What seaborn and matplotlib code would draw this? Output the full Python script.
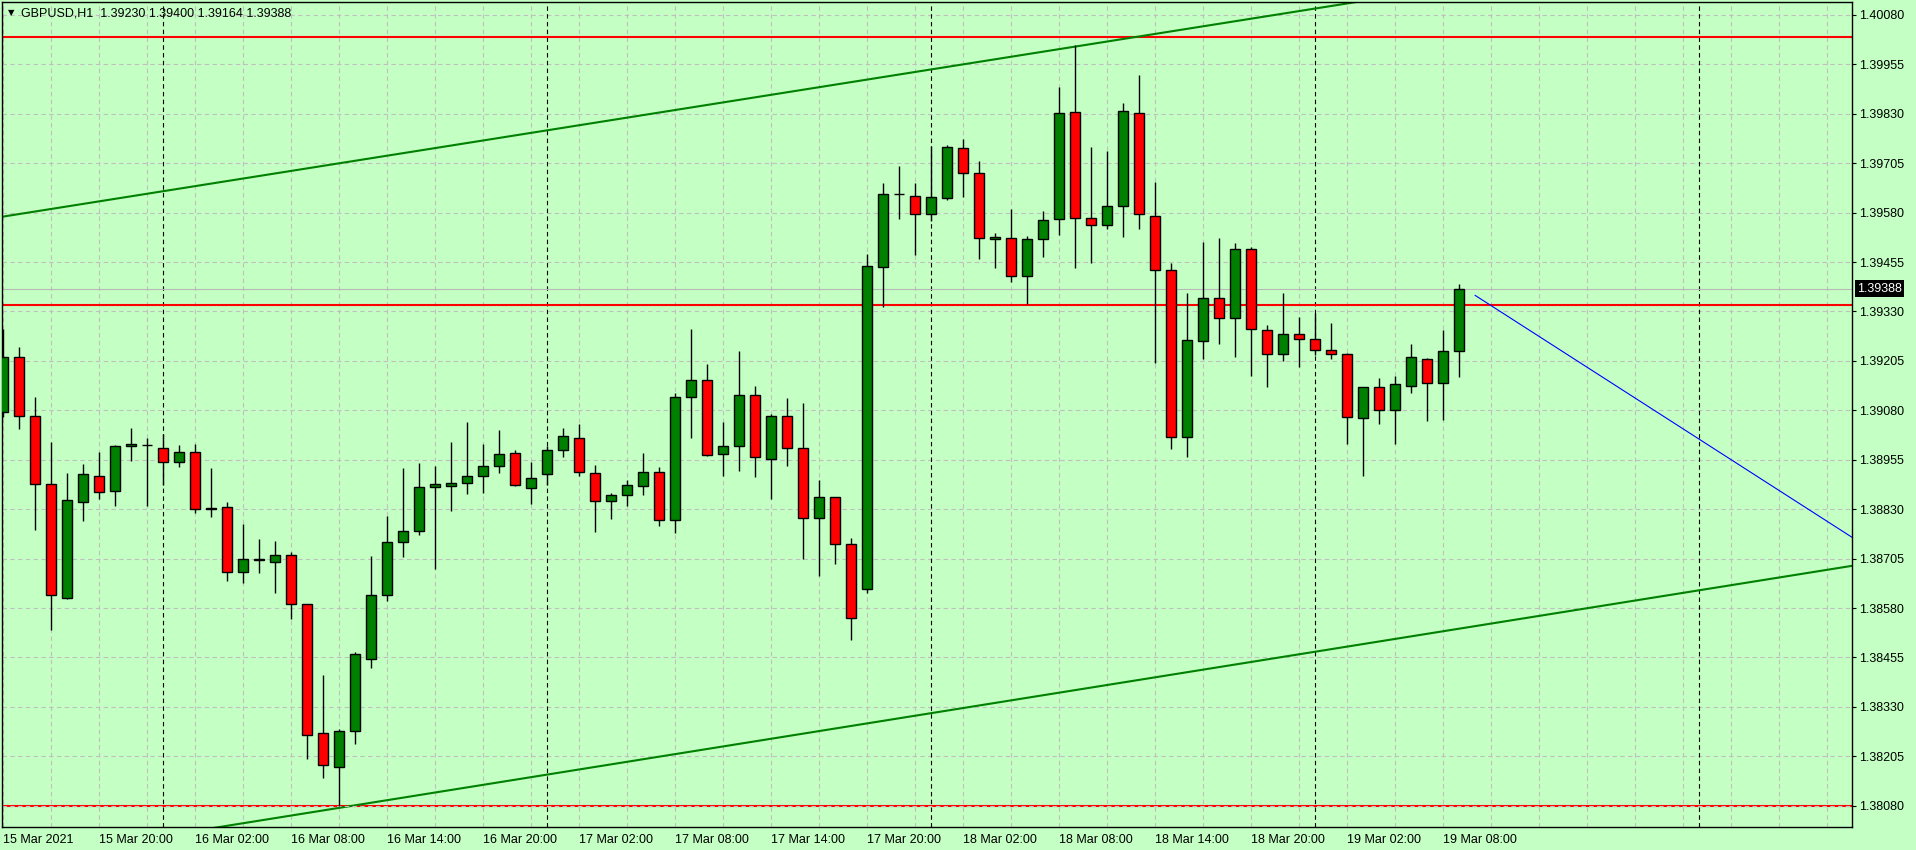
import numpy as np
import matplotlib
matplotlib.use("Agg")
import matplotlib.pyplot as plt
import seaborn as sns

# ─── Chart data: GBPUSD H1, 15 Mar 2021 14:00 -> 19 Mar 2021 09:00 ───────────
SYMBOL = "GBPUSD,H1"

opens = [1.39077, 1.39216, 1.39066, 1.38893, 1.38606, 1.38849, 1.38915, 1.38876, 1.38990, 1.38992,
         1.38986, 1.38950, 1.38974, 1.38831, 1.38835, 1.38672, 1.38703, 1.38697, 1.38713, 1.38589,
         1.38265, 1.38177, 1.38268, 1.38452, 1.38614, 1.38748, 1.38776, 1.38885, 1.38888, 1.38895,
         1.38915, 1.38938, 1.38971, 1.38883, 1.38918, 1.38979, 1.39009, 1.38921, 1.38850, 1.38865,
         1.38888, 1.38923, 1.38802, 1.39114, 1.39156, 1.38970, 1.38989, 1.39118, 1.38958, 1.39065,
         1.38984, 1.38807, 1.38860, 1.38741, 1.38627, 1.39442, 1.39626, 1.39621, 1.39576, 1.39616,
         1.39743, 1.39680, 1.39513, 1.39515, 1.39421, 1.39513, 1.39563, 1.39834, 1.39566, 1.39550,
         1.39596, 1.39831, 1.39571, 1.39434, 1.39012, 1.39255, 1.39363, 1.39313, 1.39487, 1.39282,
         1.39223, 1.39272, 1.39260, 1.39232, 1.39222, 1.39060, 1.39138, 1.39080, 1.39141, 1.39211,
         1.39148, 1.39230]
highs = [1.39287, 1.39239, 1.39115, 1.38999, 1.38921, 1.38944, 1.38974, 1.38993, 1.39035, 1.39010,
         1.39021, 1.38992, 1.38996, 1.38933, 1.38848, 1.38792, 1.38754, 1.38749, 1.38721, 1.38591,
         1.38410, 1.38275, 1.38468, 1.38711, 1.38812, 1.38934, 1.38946, 1.38939, 1.39000, 1.39050,
         1.38995, 1.39030, 1.38979, 1.38949, 1.38991, 1.39035, 1.39045, 1.38941, 1.38872, 1.38903,
         1.38971, 1.38936, 1.39125, 1.39286, 1.39197, 1.39050, 1.39230, 1.39141, 1.39072, 1.39111,
         1.39098, 1.38905, 1.38862, 1.38756, 1.39475, 1.39655, 1.39698, 1.39655, 1.39749, 1.39750,
         1.39766, 1.39710, 1.39528, 1.39588, 1.39520, 1.39583, 1.39897, 1.40003, 1.39745, 1.39735,
         1.39857, 1.39927, 1.39657, 1.39452, 1.39376, 1.39505, 1.39515, 1.39502, 1.39492, 1.39297,
         1.39376, 1.39315, 1.39325, 1.39300, 1.39224, 1.39140, 1.39163, 1.39168, 1.39249, 1.39213,
         1.39282, 1.39400]
lows = [1.39064, 1.39033, 1.38777, 1.38524, 1.38604, 1.38800, 1.38856, 1.38838, 1.38953, 1.38838,
        1.38891, 1.38937, 1.38821, 1.38811, 1.38649, 1.38644, 1.38669, 1.38618, 1.38553, 1.38198,
        1.38150, 1.38079, 1.38236, 1.38429, 1.38598, 1.38710, 1.38765, 1.38679, 1.38826, 1.38869,
        1.38871, 1.38922, 1.38888, 1.38844, 1.38892, 1.38963, 1.38915, 1.38773, 1.38806, 1.38839,
        1.38867, 1.38788, 1.38769, 1.39011, 1.38965, 1.38914, 1.38926, 1.38912, 1.38856, 1.38940,
        1.38704, 1.38661, 1.38692, 1.38500, 1.38617, 1.39342, 1.39565, 1.39473, 1.39560, 1.39613,
        1.39619, 1.39463, 1.39441, 1.39404, 1.39349, 1.39469, 1.39523, 1.39441, 1.39453, 1.39538,
        1.39519, 1.39538, 1.39201, 1.38983, 1.38963, 1.39210, 1.39248, 1.39216, 1.39167, 1.39140,
        1.39205, 1.39190, 1.39220, 1.39210, 1.38995, 1.38914, 1.39046, 1.38995, 1.39125, 1.39054,
        1.39056, 1.39164]
closes = [1.39216, 1.39066, 1.38893, 1.38613, 1.38852, 1.38918, 1.38874, 1.38991, 1.38996, 1.38992,
          1.38950, 1.38974, 1.38831, 1.38833, 1.38672, 1.38703, 1.38702, 1.38713, 1.38591, 1.38258,
          1.38182, 1.38268, 1.38463, 1.38614, 1.38746, 1.38776, 1.38885, 1.38893, 1.38895, 1.38915,
          1.38938, 1.38969, 1.38890, 1.38910, 1.38979, 1.39014, 1.38923, 1.38850, 1.38865, 1.38890,
          1.38923, 1.38802, 1.39115, 1.39158, 1.38968, 1.38989, 1.39120, 1.38961, 1.39065, 1.38984,
          1.38807, 1.38862, 1.38741, 1.38554, 1.39444, 1.39626, 1.39627, 1.39576, 1.39619, 1.39745,
          1.39680, 1.39515, 1.39518, 1.39421, 1.39513, 1.39561, 1.39831, 1.39566, 1.39550, 1.39596,
          1.39836, 1.39576, 1.39434, 1.39012, 1.39257, 1.39363, 1.39313, 1.39487, 1.39285, 1.39223,
          1.39272, 1.39260, 1.39232, 1.39222, 1.39062, 1.39138, 1.39082, 1.39146, 1.39214, 1.39148,
          1.39229, 1.39388]

x_tick_idx = [0, 6, 12, 18, 24, 30, 36, 42, 48, 54, 60, 66, 72, 78, 84, 90]
x_tick_labels = ["15 Mar 2021", "15 Mar 20:00", "16 Mar 02:00", "16 Mar 08:00",
                 "16 Mar 14:00", "16 Mar 20:00", "17 Mar 02:00", "17 Mar 08:00",
                 "17 Mar 14:00", "17 Mar 20:00", "18 Mar 02:00", "18 Mar 08:00",
                 "18 Mar 14:00", "18 Mar 20:00", "19 Mar 02:00", "19 Mar 08:00"]
day_separators = [10, 34, 58, 82, 106]   # bar index of each midnight

y_ticks = [1.38080, 1.38205, 1.38330, 1.38455, 1.38580, 1.38705, 1.38830, 1.38955,
           1.39080, 1.39205, 1.39330, 1.39455, 1.39580, 1.39705, 1.39830, 1.39955, 1.40080]

# horizontal levels (red)
h_levels = [1.40023, 1.39346, 1.38080]

# trend lines: (bar index pair, price pair)
upper_idx, upper_px = [0, 84], [1.39570, 1.40109]
lower_idx, lower_px = [24, 115.6], [1.38094, 1.38687]
blue_idx, blue_px = [92, 115.6], [1.39371, 1.38758]

# ─── Style ───────────────────────────────────────────────────────────────────
BG = "#C4FFC4"
BULL = "#008000"
BEAR = "#FF0000"
GRID = "#C0C0C0"

sns.set_style("white")
plt.rcParams["font.family"] = ["Liberation Sans", "DejaVu Sans"]

W, H = 1916, 850
fig = plt.figure(figsize=(W / 100, H / 100), dpi=100, facecolor=BG)
ax = fig.add_axes([2 / W, (H - 826.7) / H, (1852 - 2) / W, (826.7 - 2.3) / H])
ax.set_facecolor(BG)

XMIN, XMAX = -0.0625, 115.5625
YMIN, YMAX = 1.38027, 1.40112
ax.set_xlim(XMIN, XMAX)
ax.set_ylim(YMIN, YMAX)

# grid
ax.set_axisbelow(True)
ax.set_xticks(x_tick_idx)
ax.set_xticks(np.arange(0, 116, 3), minor=True)
ax.set_yticks(y_ticks)
ax.grid(True, axis="x", which="both", color=GRID, lw=0.8, linestyle=(0, (4, 3)))
ax.grid(True, axis="y", which="major", color=GRID, lw=0.8, linestyle=(0, (4, 3)))

# day separators
for d in day_separators:
    ax.axvline(d, color="black", lw=0.8, linestyle=(0, (4, 3)), zorder=1)

# horizontal levels + bid line
for lvl in h_levels:
    ax.axhline(lvl, color=BEAR, lw=1.5, zorder=2)
ax.axhline(h_levels[-1], color=GRID, lw=0.8, linestyle=(0, (4, 3)), zorder=2.5)
ax.axhline(closes[-1], color="#B8B8B8", lw=0.8, zorder=1.5)


def extend(idx, px, x0, x1):
    slope = (px[1] - px[0]) / (idx[1] - idx[0])
    return [x0, x1], [px[0] + slope * (x0 - idx[0]), px[0] + slope * (x1 - idx[0])]


ux, uy = extend(upper_idx, upper_px, XMIN - 1, XMAX)
lx, ly = extend(lower_idx, lower_px, XMIN - 1, XMAX)
bx, by = extend(blue_idx, blue_px, blue_idx[0], XMAX + 1)
sns.lineplot(x=ux, y=uy, ax=ax, color=BULL, lw=1.5, zorder=2)
sns.lineplot(x=lx, y=ly, ax=ax, color=BULL, lw=1.5, zorder=2)
sns.lineplot(x=bx, y=by, ax=ax, color="#0000FF", lw=0.8, zorder=2)

# candles
o = np.array(opens)
h = np.array(highs)
l = np.array(lows)
c = np.array(closes)
xs = np.arange(len(o))
bull = c >= o
ax.vlines(xs, l, h, color="black", lw=1.0, zorder=3)
ax.bar(xs, np.abs(c - o), bottom=np.minimum(o, c), width=0.62,
       color=np.where(bull, BULL, BEAR), edgecolor="black", linewidth=1.0, zorder=4)

# axes / ticks
for s in ax.spines.values():
    s.set_color("black")
    s.set_linewidth(1.0)
ax.yaxis.tick_right()
ax.set_yticklabels([f"{v:.5f}" for v in y_ticks])
ax.set_xticklabels(x_tick_labels)
for lbl in ax.get_xticklabels():
    lbl.set_horizontalalignment("left")
ax.tick_params(axis="y", which="major", direction="out", length=3, width=0.8,
               pad=2, labelsize=9, colors="black")
ax.tick_params(axis="x", which="major", direction="out", length=3, width=0.8,
               pad=2, labelsize=9, colors="black")
ax.tick_params(axis="x", which="minor", length=0)
ax.set_xlabel("")
ax.set_ylabel("")

# current price box
ax.annotate(f"{closes[-1]:.5f}", xy=(1, closes[-1]), xycoords=("axes fraction", "data"),
            xytext=(5, 0), textcoords="offset pixels", ha="left", va="center",
            fontsize=9, color="white", annotation_clip=False,
            bbox=dict(boxstyle="square,pad=0.2", fc="black", ec="none"))

# header text
fig.text(8 / W, 1 - 13 / H, "▼", fontsize=6, family="DejaVu Sans", va="center", color="black")
fig.text(21 / W, 1 - 13 / H,
         f"{SYMBOL}  {opens[-1]:.5f} {highs[-1]:.5f} {lows[-1]:.5f} {closes[-1]:.5f}",
         fontsize=9, va="center", color="black")

fig.savefig("out.png", dpi=100, facecolor=BG)
